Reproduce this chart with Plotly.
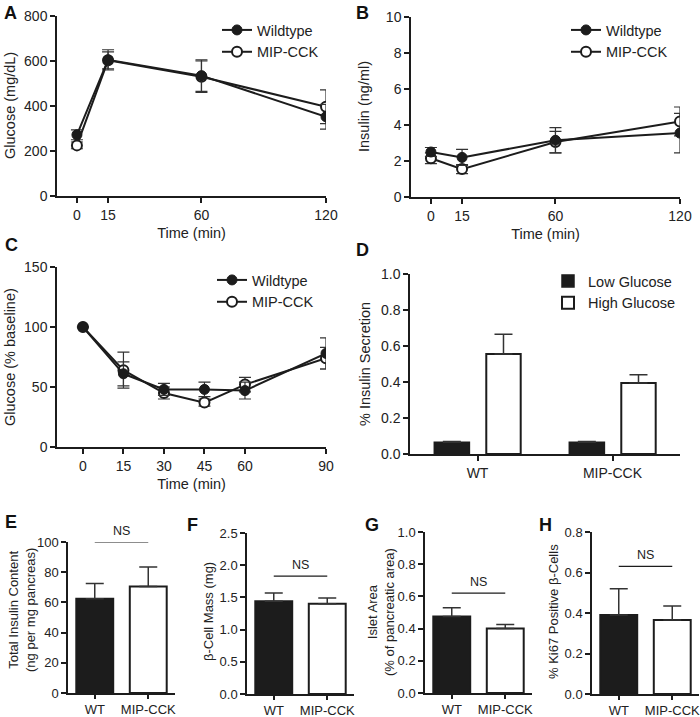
import plotly.graph_objects as go

# ---------------- data ----------------
time_ab = [0, 15, 60, 120]
glucose_wt = [272, 605, 535, 352]
glucose_wt_err = [22, 45, 70, 55]
glucose_mip = [225, 603, 530, 397]
glucose_mip_err = [15, 38, 70, 75]

insulin_wt = [2.5, 2.2, 3.15, 3.55]
insulin_wt_err = [0.25, 0.45, 0.7, 1.1]
insulin_mip = [2.15, 1.55, 3.05, 4.2]
insulin_mip_err = [0.3, 0.25, 0.6, 0.8]

time_c = [0, 15, 30, 45, 60, 90]
itt_wt = [100, 61, 48, 48, 47, 78]
itt_wt_err = [0, 10, 5, 6, 7, 13]
itt_mip = [100, 64, 45, 37, 52, 74]
itt_mip_err = [0, 15, 5, 3, 6, 9]

groups = ["WT", "MIP-CCK"]
gsis_low = [0.065, 0.065]
gsis_low_err = [0.004, 0.004]
gsis_high = [0.555, 0.395]
gsis_high_err = [0.11, 0.045]

content = [62.5, 70.5]
content_err = [10, 13]
mass = [1.44, 1.40]
mass_err = [0.13, 0.09]
islet = [0.475, 0.40]
islet_err = [0.055, 0.025]
ki67 = [0.39, 0.365]
ki67_err = [0.13, 0.07]
ns_levels = [100, 1.83, 0.62, 0.63]

y_titles = ["Glucose (mg/dL)", "Insulin (ng/ml)", "Glucose (% baseline)", "% Insulin Secretion",
            "Total Insulin Content<br>(ng per mg pancreas)", "β-Cell Mass (mg)",
            "Islet Area<br>(% of pancreatic area)", "% Ki67 Positive β-Cells"]

# ---------------- layout helpers ----------------
W, H = 700, 717
FONT = "Liberation Sans, Arial, sans-serif"
INK = "#1c1c1c"
TXT = "#222"


def xd(a, b):
    return [a / W, b / W]


def yd(top, bottom):
    return [1 - bottom / H, 1 - top / H]


fig = go.Figure()


def line_pair(xs, wt, wte, mip, mipe, ax, legend):
    xa, ya = ("x", "y") if ax == 1 else (f"x{ax}", f"y{ax}")
    fig.add_trace(go.Scatter(
        x=xs, y=mip, name="MIP-CCK", mode="lines+markers", xaxis=xa, yaxis=ya,
        legend=legend, legendrank=2,
        line=dict(color=INK, width=2),
        marker=dict(symbol="circle", size=10, color="white", line=dict(color=INK, width=2)),
        error_y=dict(type="data", array=mipe, color="#333", thickness=1.2, width=6),
    ))
    fig.add_trace(go.Scatter(
        x=xs, y=wt, name="Wildtype", mode="lines+markers", xaxis=xa, yaxis=ya,
        legend=legend, legendrank=1,
        line=dict(color=INK, width=2),
        marker=dict(symbol="circle", size=10, color=INK, line=dict(color=INK, width=1)),
        error_y=dict(type="data", array=wte, color="#333", thickness=1.2, width=6),
    ))


line_pair(time_ab, glucose_wt, glucose_wt_err, glucose_mip, glucose_mip_err, 1, "legend")
line_pair(time_ab, insulin_wt, insulin_wt_err, insulin_mip, insulin_mip_err, 2, "legend2")
line_pair(time_c, itt_wt, itt_wt_err, itt_mip, itt_mip_err, 3, "legend3")

# panel D bars
fig.add_trace(go.Bar(
    x=groups, y=gsis_low, name="Low Glucose", xaxis="x4", yaxis="y4", legend="legend4",
    width=0.26, offset=-0.32,
    marker=dict(color=INK, line=dict(color=INK, width=1.5)),
    error_y=dict(type="data", array=gsis_low_err, arrayminus=[0, 0], color="#333", thickness=1.5, width=9),
))
fig.add_trace(go.Bar(
    x=groups, y=gsis_high, name="High Glucose", xaxis="x4", yaxis="y4", legend="legend4",
    width=0.255, offset=0.065,
    marker=dict(color="white", line=dict(color=INK, width=2)),
    error_y=dict(type="data", array=gsis_high_err, arrayminus=[0, 0], color="#333", thickness=1.5, width=9),
))

# panels E-H bars
bar_sets = [(content, content_err), (mass, mass_err), (islet, islet_err), (ki67, ki67_err)]
for i, (vals, errs) in enumerate(bar_sets):
    ax = 5 + i
    fig.add_trace(go.Bar(
        x=groups, y=vals, xaxis=f"x{ax}", yaxis=f"y{ax}", showlegend=False, width=0.69,
        marker=dict(color=[INK, "white"], line=dict(color=INK, width=2)),
        error_y=dict(type="data", array=errs, arrayminus=[0, 0], color="#333", thickness=1.5, width=9),
    ))

big_tick = dict(family=FONT, size=14, color=TXT)
big_title = dict(family=FONT, size=14.5, color=TXT)
small_tick = dict(family=FONT, size=13, color=TXT)
small_title = dict(family=FONT, size=13, color=TXT)

axis_common = dict(showline=True, linecolor=INK, linewidth=1.5, ticks="outside", ticklen=5,
                   tickwidth=1.5, tickcolor=INK, showgrid=False, zeroline=False,
                   automargin=False, tickfont=big_tick)

lay = dict(
    width=W, height=H, margin=dict(l=0, r=0, t=0, b=0, autoexpand=False),
    paper_bgcolor="white", plot_bgcolor="white", barmode="overlay",
    font=dict(family=FONT, color=TXT),
    xaxis=dict(axis_common, domain=xd(57, 326), range=[-9.6, 120], tickvals=[0, 15, 60, 120],
               title=dict(text="Time (min)", font=big_title, standoff=6), anchor="y"),
    yaxis=dict(axis_common, domain=yd(16, 196), range=[0, 800], tickvals=[0, 200, 400, 600, 800],
               anchor="x"),
    xaxis2=dict(axis_common, domain=xd(411, 680), range=[-9.6, 120], tickvals=[0, 15, 60, 120],
                title=dict(text="Time (min)", font=big_title, standoff=6), anchor="y2"),
    yaxis2=dict(axis_common, domain=yd(17, 197), range=[0, 10], tickvals=[0, 2, 4, 6, 8, 10],
                anchor="x2"),
    xaxis3=dict(axis_common, domain=xd(57, 326), range=[-9.6, 90], tickvals=[0, 15, 30, 45, 60, 90],
                title=dict(text="Time (min)", font=big_title, standoff=6), anchor="y3"),
    yaxis3=dict(axis_common, domain=yd(267, 447), range=[0, 150], tickvals=[0, 50, 100, 150],
                anchor="x3"),
    xaxis4=dict(axis_common, domain=xd(410, 680), range=[-0.5, 1.5], type="category", anchor="y4"),
    yaxis4=dict(axis_common, domain=yd(274, 454), range=[0, 1.0], tickvals=[0, 0.2, 0.4, 0.6, 0.8, 1.0],
                tickformat=".1f", anchor="x4"),
)

bar_axes = [
    (xd(68, 175), yd(542, 693), [0, 100], [0, 20, 40, 60, 80, 100], ""),
    (xd(247, 354), yd(533, 694), [0, 2.5], [0, 0.5, 1.0, 1.5, 2.0, 2.5], ".1f"),
    (xd(425, 532), yd(532, 693), [0, 1.0], [0, 0.2, 0.4, 0.6, 0.8, 1.0], ".1f"),
    (xd(592, 699), yd(532, 694), [0, 0.8], [0, 0.2, 0.4, 0.6, 0.8], ".1f"),
]
for i, (xdom, ydom, yr, tv, tf) in enumerate(bar_axes):
    ax = 5 + i
    lay[f"xaxis{ax}"] = dict(axis_common, domain=xdom, range=[-0.5, 1.5], type="category",
                             anchor=f"y{ax}", tickfont=small_tick, ticklen=4)
    lay[f"yaxis{ax}"] = dict(axis_common, domain=ydom, range=yr, tickvals=tv, tickformat=tf,
                             anchor=f"x{ax}", tickfont=small_tick)

legend_common = dict(bgcolor="rgba(0,0,0,0)", font=dict(family=FONT, size=14.5, color=TXT),
                     xanchor="left", yanchor="top", tracegroupgap=0, traceorder="normal", itemwidth=30)
lay["legend"] = dict(legend_common, x=217 / W, y=1 - 14 / H)
lay["legend2"] = dict(legend_common, x=566 / W, y=1 - 14 / H)
lay["legend3"] = dict(legend_common, x=212 / W, y=1 - 264 / H)
lay["legend4"] = dict(legend_common, x=548 / W, y=1 - 265 / H)

fig.update_layout(**lay)

shapes = []
annotations = []

# y-axis titles (rotated), positioned in pixels
title_pos = [(10, 106, big_title), (364, 107, big_title), (10, 357, big_title), (365, 364, big_title),
             (22, 610, small_title), (208, 612, small_title), (381, 612, small_title), (553, 612, small_title)]
for text, (px, py, f) in zip(y_titles, title_pos):
    annotations.append(dict(xref="paper", yref="paper", x=px / W, y=1 - py / H, text=text,
                            textangle=-90, showarrow=False, xanchor="center", yanchor="middle",
                            font=f))

# NS markers
for i, lvl in enumerate(ns_levels):
    ax = 5 + i
    shapes.append(dict(type="line", xref=f"x{ax}", yref=f"y{ax}", x0=0, x1=1, y0=lvl, y1=lvl,
                       line=dict(color=INK, width=1.2)))
    annotations.append(dict(xref=f"x{ax}", yref=f"y{ax}", x=0.5, y=lvl, text="NS", showarrow=False,
                            yanchor="bottom", yshift=2, font=dict(family=FONT, size=12.5, color=TXT)))

letters = [("A", 2, 13), ("B", 354, 13), ("C", 3, 245), ("D", 354, 250),
           ("E", 3, 522), ("F", 185, 525), ("G", 363, 525), ("H", 537, 525)]
for t, x, y in letters:
    annotations.append(dict(xref="paper", yref="paper", x=x / W, y=1 - y / H, text=f"<b>{t}</b>",
                            showarrow=False, xanchor="left", yanchor="middle",
                            font=dict(family=FONT, size=18, color="#111")))

fig.update_layout(shapes=shapes, annotations=annotations)
fig.write_html(
    "out.html",
    config={"displayModeBar": False},
    post_script="document.body.style.margin='0';document.body.style.overflow='hidden';",
)
